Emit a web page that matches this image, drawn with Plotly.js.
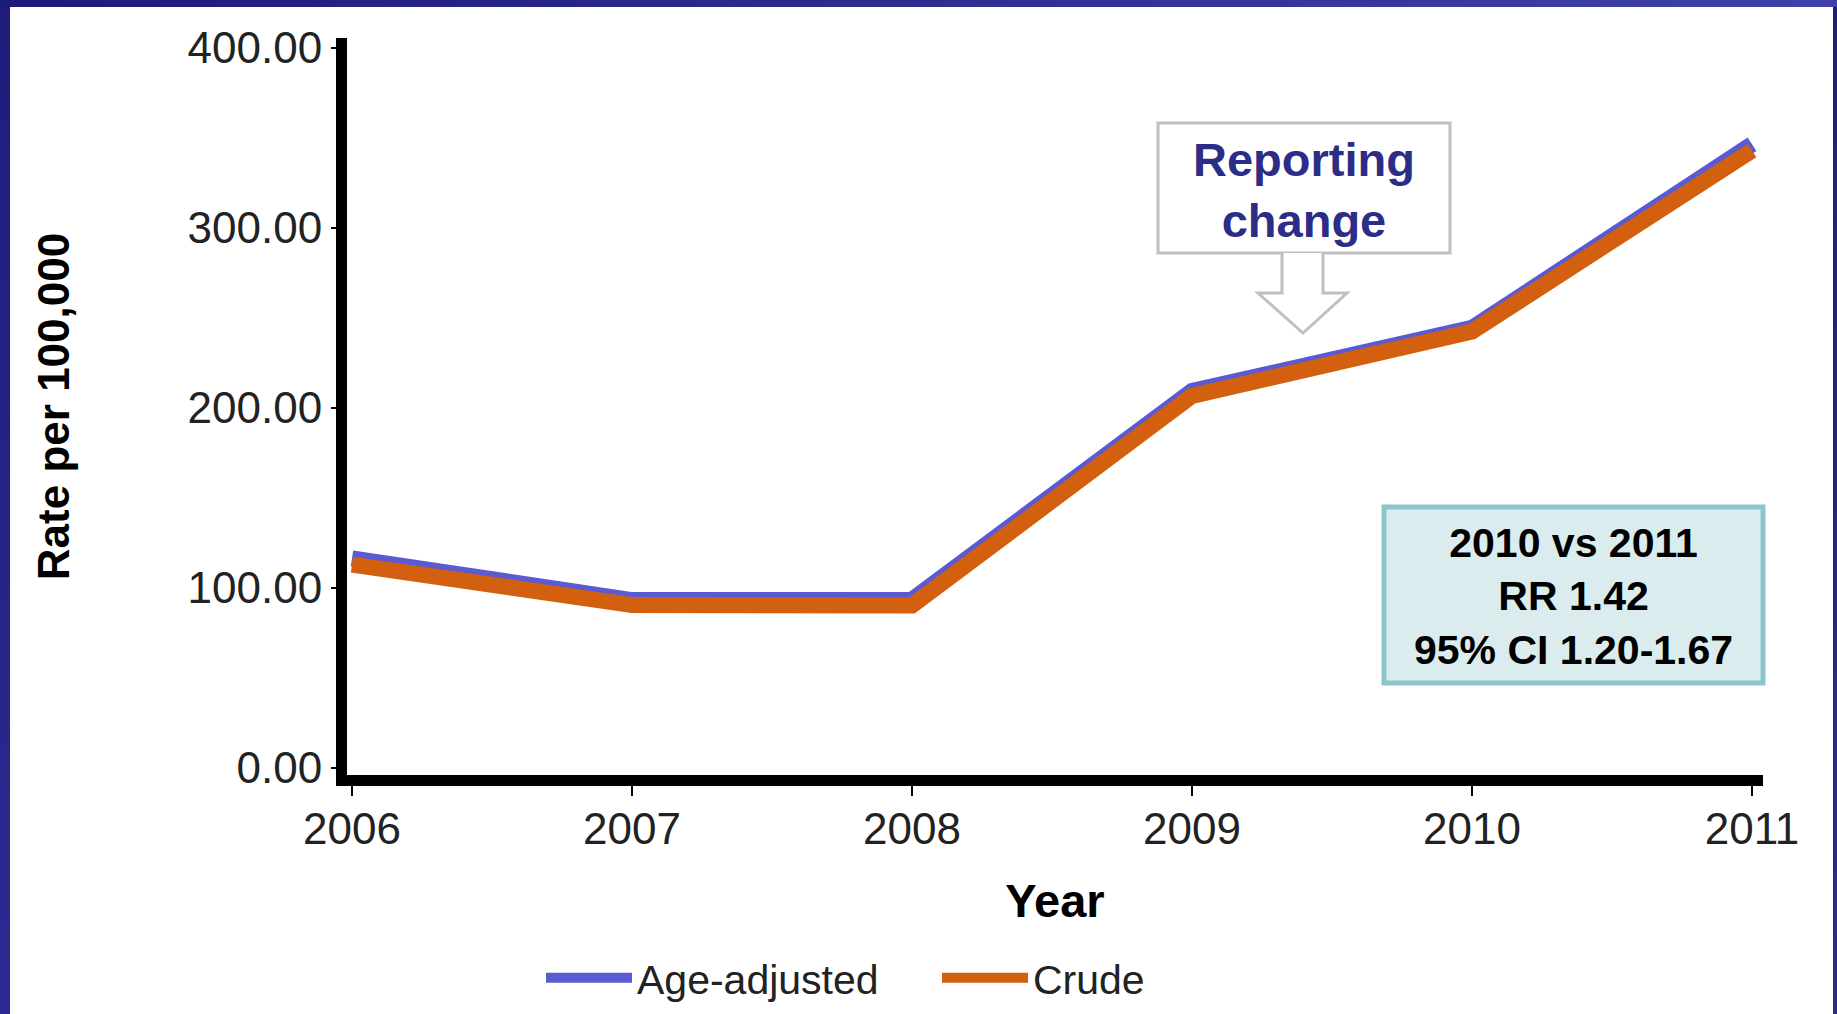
<!DOCTYPE html>
<html>
<head>
<meta charset="utf-8">
<script src="https://cdn.plot.ly/plotly-3.0.1.min.js"></script>
<style>
  html, body { margin:0; padding:0; width:1837px; height:1014px; overflow:hidden; }
  body { background: linear-gradient(90deg, #1c1a78 0%, #2a2a8c 40%, #4040aa 100%); position:relative; }
  #frame { position:absolute; left:0; top:7px; width:1837px; height:1007px;
           background: linear-gradient(180deg, #1f1c7c 0%, #2c2a92 100%); }
  #chart { position:absolute; left:10px; top:7px; width:1823px; height:1007px; background:#fff; }
</style>
</head>
<body>
<div id="frame"></div>
<div id="chart"></div>
<script>
// ---- data ----
const years = [2006, 2007, 2008, 2009, 2010, 2011];
const ageAdjusted = [116.5, 93.3, 93.5, 209.5, 244.5, 346.5];
const crude = [113.0, 90.5, 90.3, 206.7, 242.5, 343.0];
const seriesNames = ['Age-adjusted', 'Crude'];
const yTickVals = [0, 100, 200, 300, 400];
const yTickText = ['0.00', '100.00', '200.00', '300.00', '400.00'];
const calloutText = 'Reporting<br>change';
const rrText = '2010 vs 2011<br>RR 1.42<br>95% CI 1.20-1.67';

const BLUE = '#5a5ad2';
const ORANGE = '#d2600f';
const FONT = 'Liberation Sans, Arial, sans-serif';

// ---- layout geometry (page pixels -> paper coords) ----
const DIV_X = 10, DIV_Y = 7, DIV_W = 1823, DIV_H = 1007;
const PL = 347, PR = 1763, PT = 38, PB = 775;
const px = X => (X - PL) / (PR - PL);
const py = Y => (PB - Y) / (PB - PT);
const cx = X => (X - DIV_X) / DIV_W;
const cy = Y => 1 - (Y - DIV_Y) / DIV_H;

const traces = [
  { x: years, y: ageAdjusted, name: seriesNames[0], type: 'scatter', mode: 'lines',
    line: { color: BLUE, width: 16 }, hoverinfo: 'x+y+name' },
  { x: years, y: crude, name: seriesNames[1], type: 'scatter', mode: 'lines',
    line: { color: ORANGE, width: 16 }, hoverinfo: 'x+y+name' }
];

// hollow down arrow under the callout
const aL = px(1282), aR = px(1323), hL = px(1258), hR = px(1347), tipX = px(1303);
const aTop = py(253), aNeck = py(293), aTip = py(333);
const arrowPath = `M${aL},${aTop} L${aL},${aNeck} L${hL},${aNeck} L${tipX},${aTip} L${hR},${aNeck} L${aR},${aNeck} L${aR},${aTop}`;

const layout = {
  width: DIV_W, height: DIV_H,
  margin: { l: PL - DIV_X, r: DIV_X + DIV_W - PR, t: PT - DIV_Y, b: DIV_Y + DIV_H - PB },
  paper_bgcolor: '#ffffff', plot_bgcolor: '#ffffff',
  font: { family: FONT, color: '#222' },
  showlegend: true,
  legend: { orientation: 'h', xref: 'container', yref: 'container', x: cx(541), y: cy(978),
            xanchor: 'left', yanchor: 'middle',
            font: { size: 41, color: '#222' }, itemwidth: 86, entrywidth: 295, entrywidthmode: 'pixels',
            bgcolor: 'rgba(0,0,0,0)', borderwidth: 0, traceorder: 'normal' },
  xaxis: {
    range: [2006 - 5/280, 2011 + 11/280], tickvals: years, ticktext: years.map(String),
    showgrid: false, zeroline: false, showline: true, linecolor: '#000', linewidth: 11,
    ticks: 'outside', ticklen: 10, tickwidth: 2, tickcolor: '#000', ticklabelstandoff: -5,
    tickfont: { size: 44, color: '#222' },
    title: { text: 'Year', font: { size: 47, color: '#000', family: FONT, weight: 'bold' }, standoff: 37 }
  },
  yaxis: {
    range: [-7/1.8, 730/1.8], tickvals: yTickVals, ticktext: yTickText,
    showgrid: false, zeroline: false, showline: true, linecolor: '#000', linewidth: 11,
    ticks: 'outside', ticklen: 5, tickwidth: 2, tickcolor: '#000',
    tickfont: { size: 44, color: '#222' },
    title: { text: 'Rate per 100,000', font: { size: 44, color: '#000', family: FONT, weight: 'bold' }, standoff: 109 }
  },
  shapes: [
    { type: 'rect', xref: 'paper', yref: 'paper', x0: px(1158), x1: px(1450), y0: py(253), y1: py(123),
      line: { color: '#c0c0c0', width: 3 }, fillcolor: '#ffffff' },
    { type: 'path', xref: 'paper', yref: 'paper', path: arrowPath,
      line: { color: '#c0c0c0', width: 3 }, fillcolor: '#ffffff' },
    { type: 'rect', xref: 'paper', yref: 'paper', x0: px(1384), x1: px(1763), y0: py(683), y1: py(507),
      line: { color: '#8cc6cc', width: 5 }, fillcolor: '#daecee' }
  ],
  annotations: [
    { xref: 'paper', yref: 'paper', x: px(1304), y: py(190), text: calloutText, showarrow: false,
      xanchor: 'center', yanchor: 'middle', align: 'center',
      font: { size: 47, color: '#2b2d87', family: FONT, weight: 'bold' } },
    { xref: 'paper', yref: 'paper', x: px(1573), y: py(596), text: rrText, showarrow: false,
      xanchor: 'center', yanchor: 'middle', align: 'center',
      font: { size: 41, color: '#000', family: FONT, weight: 'bold' } }
  ]
};

Plotly.newPlot('chart', traces, layout, { displayModeBar: false, responsive: false });
</script>
</body>
</html>
